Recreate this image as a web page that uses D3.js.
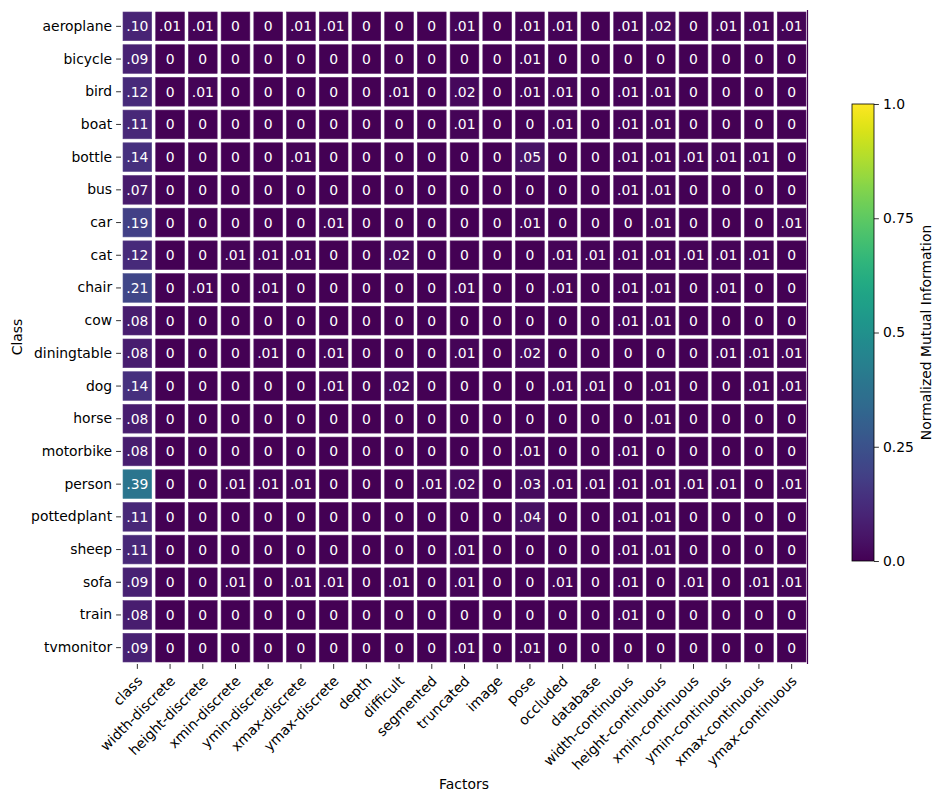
<!DOCTYPE html>
<html>
<head>
<meta charset="utf-8">
<script src="https://cdn.jsdelivr.net/npm/d3@7"></script>
<style>
  body { margin: 0; background: #fff; }
  text { font-family: "DejaVu Sans", sans-serif; fill: #000; }
</style>
</head>
<body>
<svg id="chart" width="944" height="802"></svg>
<script>
const classes = ["aeroplane", "bicycle", "bird", "boat", "bottle", "bus", "car", "cat", "chair", "cow",
  "diningtable", "dog", "horse", "motorbike", "person", "pottedplant", "sheep", "sofa", "train", "tvmonitor"];

const factors = ["class", "width-discrete", "height-discrete", "xmin-discrete", "ymin-discrete",
  "xmax-discrete", "ymax-discrete", "depth", "difficult", "segmented", "truncated", "image", "pose",
  "occluded", "database", "width-continuous", "height-continuous", "xmin-continuous",
  "ymin-continuous", "xmax-continuous", "ymax-continuous"];

// one row per class, one value per factor
const nmi = [
  [.10, .01, .01, 0, 0, .01, .01, 0, 0, 0, .01, 0, .01, .01, 0, .01, .02, 0, .01, .01, .01],
  [.09, 0, 0, 0, 0, 0, 0, 0, 0, 0, 0, 0, .01, 0, 0, 0, 0, 0, 0, 0, 0],
  [.12, 0, .01, 0, 0, 0, 0, 0, .01, 0, .02, 0, .01, .01, 0, .01, .01, 0, 0, 0, 0],
  [.11, 0, 0, 0, 0, 0, 0, 0, 0, 0, .01, 0, 0, .01, 0, .01, .01, 0, 0, 0, 0],
  [.14, 0, 0, 0, 0, .01, 0, 0, 0, 0, 0, 0, .05, 0, 0, .01, .01, .01, .01, .01, 0],
  [.07, 0, 0, 0, 0, 0, 0, 0, 0, 0, 0, 0, 0, 0, 0, .01, .01, 0, 0, 0, 0],
  [.19, 0, 0, 0, 0, 0, .01, 0, 0, 0, 0, 0, .01, 0, 0, 0, .01, 0, 0, 0, .01],
  [.12, 0, 0, .01, .01, .01, 0, 0, .02, 0, 0, 0, 0, .01, .01, .01, .01, .01, .01, .01, 0],
  [.21, 0, .01, 0, .01, 0, 0, 0, 0, 0, .01, 0, 0, .01, 0, .01, .01, 0, .01, 0, 0],
  [.08, 0, 0, 0, 0, 0, 0, 0, 0, 0, 0, 0, 0, 0, 0, .01, .01, 0, 0, 0, 0],
  [.08, 0, 0, 0, .01, 0, .01, 0, 0, 0, .01, 0, .02, 0, 0, 0, 0, 0, .01, .01, .01],
  [.14, 0, 0, 0, 0, 0, .01, 0, .02, 0, 0, 0, 0, .01, .01, 0, .01, 0, 0, .01, .01],
  [.08, 0, 0, 0, 0, 0, 0, 0, 0, 0, 0, 0, 0, 0, 0, 0, .01, 0, 0, 0, 0],
  [.08, 0, 0, 0, 0, 0, 0, 0, 0, 0, 0, 0, .01, 0, 0, .01, 0, 0, 0, 0, 0],
  [.39, 0, 0, .01, .01, .01, 0, 0, 0, .01, .02, 0, .03, .01, .01, .01, .01, .01, .01, 0, .01],
  [.11, 0, 0, 0, 0, 0, 0, 0, 0, 0, 0, 0, .04, 0, 0, .01, .01, 0, 0, 0, 0],
  [.11, 0, 0, 0, 0, 0, 0, 0, 0, 0, .01, 0, 0, 0, 0, .01, .01, 0, 0, 0, 0],
  [.09, 0, 0, .01, 0, .01, .01, 0, .01, 0, .01, 0, 0, .01, 0, .01, 0, .01, 0, .01, .01],
  [.08, 0, 0, 0, 0, 0, 0, 0, 0, 0, 0, 0, 0, 0, 0, .01, 0, 0, 0, 0, 0],
  [.09, 0, 0, 0, 0, 0, 0, 0, 0, 0, .01, 0, .01, 0, 0, 0, 0, 0, 0, 0, 0]
];

const cbarTicks = [0, 0.25, 0.5, 0.75, 1];
const cbarLabels = ["0.0", "0.25", "0.5", "0.75", "1.0"];

const svg = d3.select("#chart");
const fs = 13.9;

const x = d3.scaleBand().domain(factors).range([121, 808]);
const y = d3.scaleBand().domain(classes).range([10, 664]);
const color = d3.scaleSequential(d3.interpolateViridis).domain([0, 1]);

// flatten rows into cells
const cells = [];
nmi.forEach((row, i) => row.forEach((v, j) => cells.push({ r: classes[i], c: factors[j], v })));

const fmt = (v) => v === 0 ? "0" : d3.format(".2f")(v).replace(/^0/, "");

const gap = 2;
const g = svg.append("g");
g.selectAll("rect")
  .data(cells)
  .join("rect")
  .attr("x", (d) => x(d.c) + gap)
  .attr("y", (d) => y(d.r) + gap)
  .attr("width", x.bandwidth() - 2 * gap)
  .attr("height", y.bandwidth() - 2 * gap)
  .attr("fill", (d) => color(d.v))
  .attr("stroke", (d) => d3.interpolateRgb(color(d.v), "#fff")(0.12))
  .attr("stroke-width", 0.6);

g.selectAll("text")
  .data(cells)
  .join("text")
  .attr("x", (d) => x(d.c) + x.bandwidth() / 2)
  .attr("y", (d) => y(d.r) + y.bandwidth() / 2)
  .attr("text-anchor", "middle")
  .attr("dominant-baseline", "central")
  .style("font-size", fs + "px")
  .style("fill", "#fff")
  .text((d) => fmt(d.v));

// thin dark edge on the right of the mesh
svg.append("line")
  .attr("x1", 807.5).attr("x2", 807.5)
  .attr("y1", y.range()[0]).attr("y2", y.range()[1])
  .attr("stroke", color(0)).attr("stroke-width", 1.2);

// y axis
const yAxis = svg.append("g")
  .attr("transform", `translate(${x.range()[0]},0)`)
  .call(d3.axisLeft(y).tickSize(4.9).tickPadding(4))
  .call((s) => s.select(".domain").remove());
yAxis.selectAll("line").attr("stroke", "#000").attr("stroke-width", 0.8);
yAxis.selectAll("text").style("font-size", fs + "px").style("font-family", "DejaVu Sans");

// x axis, labels rotated 45 degrees
const xAxis = svg.append("g")
  .attr("transform", `translate(0,${y.range()[1]})`)
  .call(d3.axisBottom(x).tickSize(4.9))
  .call((s) => s.select(".domain").remove());
xAxis.selectAll("line").attr("stroke", "#000").attr("stroke-width", 0.8);
xAxis.selectAll("text")
  .attr("y", null).attr("dy", null)
  .attr("text-anchor", "end")
  .attr("transform", "translate(6,18) rotate(-45)")
  .style("font-size", fs + "px")
  .style("font-family", "DejaVu Sans");

svg.append("text")
  .attr("x", 464).attr("y", 789)
  .attr("text-anchor", "middle")
  .style("font-size", fs + "px")
  .text("Factors");

svg.append("text")
  .attr("transform", "translate(22,337) rotate(-90)")
  .attr("text-anchor", "middle")
  .style("font-size", fs + "px")
  .text("Class");

// colorbar
const cb = { x: 852, w: 22, top: 104, bottom: 561 };
const cy = d3.scaleLinear().domain([0, 1]).range([cb.bottom, cb.top]);
const grad = svg.append("defs").append("linearGradient")
  .attr("id", "vir").attr("x1", 0).attr("x2", 0).attr("y1", 1).attr("y2", 0);
grad.selectAll("stop")
  .data(d3.range(0, 1.0001, 0.02))
  .join("stop")
  .attr("offset", (d) => d)
  .attr("stop-color", (d) => color(d));
svg.append("rect")
  .attr("x", cb.x).attr("y", cb.top)
  .attr("width", cb.w).attr("height", cb.bottom - cb.top)
  .attr("fill", "url(#vir)")
  .attr("stroke", "#000").attr("stroke-width", 0.8);

const cAxis = svg.append("g")
  .attr("transform", `translate(${cb.x + cb.w},0)`)
  .call(d3.axisRight(cy).tickValues(cbarTicks).tickSize(4.9).tickPadding(4)
    .tickFormat((d, i) => cbarLabels[i]))
  .call((s) => s.select(".domain").remove());
cAxis.selectAll("line").attr("stroke", "#000").attr("stroke-width", 0.8);
cAxis.selectAll("text").style("font-size", fs + "px").style("font-family", "DejaVu Sans");

svg.append("text")
  .attr("transform", `translate(931,${(cb.top + cb.bottom) / 2}) rotate(-90)`)
  .attr("text-anchor", "middle")
  .style("font-size", fs + "px")
  .text("Normalized Mutual Information");
</script>
</body>
</html>
